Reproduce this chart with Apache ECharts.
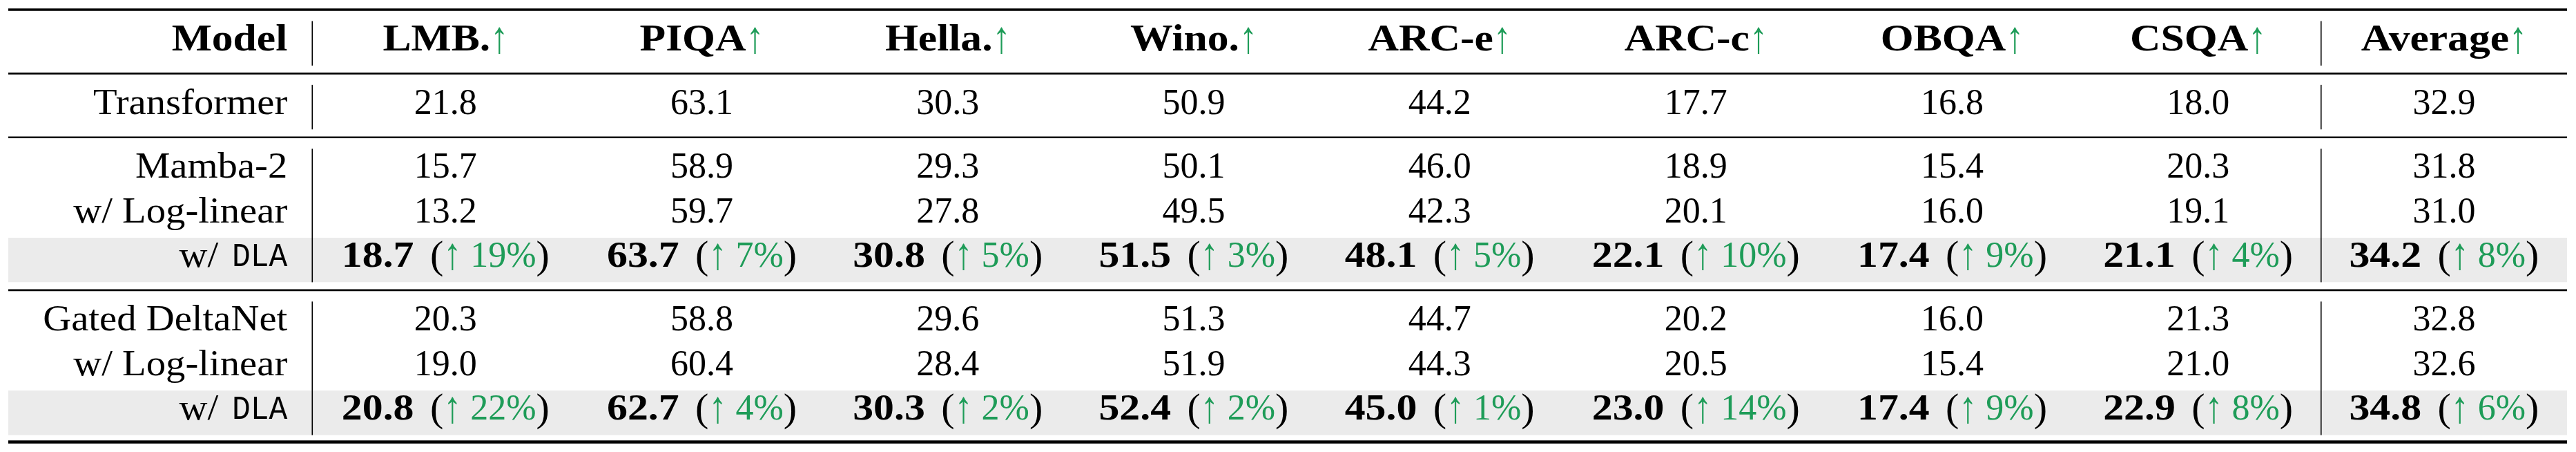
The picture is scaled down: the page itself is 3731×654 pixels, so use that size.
<!DOCTYPE html>
<html>
<head>
<meta charset="utf-8">
<script src="https://cdn.jsdelivr.net/npm/echarts@6/dist/echarts.min.js"></script>
<style>
html,body{margin:0;padding:0;background:#ffffff;}
#chart{width:3731px;height:654px;}
</style>
</head>
<body>
<div id="chart"></div>
<script>
// ---------------- data ----------------
const MODEL_HEADER = 'Model';
const COLUMNS = ['LMB.', 'PIQA', 'Hella.', 'Wino.', 'ARC-e', 'ARC-c', 'OBQA', 'CSQA', 'Average'];
const ROW_LABELS = ['Transformer', 'Mamba-2', 'w/ Log-linear', 'w/ DLA', 'Gated DeltaNet', 'w/ Log-linear', 'w/ DLA'];
const ROW_GROUPS = [1, 2, 2, 2, 3, 3, 3];
const CODE_TERM = 'DLA';

const TRANSFORMER      = [21.8, 63.1, 30.3, 50.9, 44.2, 17.7, 16.8, 18.0, 32.9];
const MAMBA2           = [15.7, 58.9, 29.3, 50.1, 46.0, 18.9, 15.4, 20.3, 31.8];
const MAMBA2_LOGLINEAR = [13.2, 59.7, 27.8, 49.5, 42.3, 20.1, 16.0, 19.1, 31.0];
const MAMBA2_DLA       = [18.7, 63.7, 30.8, 51.5, 48.1, 22.1, 17.4, 21.1, 34.2];
const MAMBA2_DLA_GAIN  = [19, 7, 5, 3, 5, 10, 9, 4, 8];
const GDN              = [20.3, 58.8, 29.6, 51.3, 44.7, 20.2, 16.0, 21.3, 32.8];
const GDN_LOGLINEAR    = [19.0, 60.4, 28.4, 51.9, 44.3, 20.5, 15.4, 21.0, 32.6];
const GDN_DLA          = [20.8, 62.7, 30.3, 52.4, 45.0, 23.0, 17.4, 22.9, 34.8];
const GDN_DLA_GAIN     = [22, 4, 2, 2, 1, 14, 9, 8, 6];

const ROW_VALUES = [TRANSFORMER, MAMBA2, MAMBA2_LOGLINEAR, MAMBA2_DLA, GDN, GDN_LOGLINEAR, GDN_DLA];
const ROW_GAINS  = [null, null, null, MAMBA2_DLA_GAIN, null, null, GDN_DLA_GAIN];

// ---------------- style / layout ----------------
const GREEN = '#1e9c58';
const SHADE = '#ebebeb';
const SERIF = 'Liberation Serif';
const MONO = 'Liberation Mono';
const F = {
  reg:     { size: 52, family: SERIF, weight: 'normal' },
  head:    { size: 55, family: SERIF, weight: 'bold' },
  boldNum: { size: 52, family: SERIF, weight: 'bold' },
  paren:   { size: 58, family: SERIF, weight: 'normal' },
  mono:    { size: 48, family: MONO,  weight: 'normal' }
};
const SX_LABEL = 1.09, SX_HEAD = 1.12, SX_BOLDNUM = 1.15, SX_MONO = 0.93, SY_ARROW = 1.25;
const EM = 52;

const MODEL_COL = 1.236, BASE_COL = 1, WIDE_EXTRA = 0.084, PAD = 0.101;
const GROUP_GAP = 0.434, RULE_ABOVE = 0.256, RULE_BELOW = 0.155, TEXT_SHIFT = -0.06;

// column geometry derived from content (two-digit gains widen a column)
const colW = COLUMNS.map((c, i) => {
  let digits = 1;
  ROW_GAINS.forEach(g => { if (g) digits = Math.max(digits, String(g[i]).length); });
  return BASE_COL + WIDE_EXTRA * (digits - 1);
});
const colStart = [];
let acc = MODEL_COL;
colW.forEach((w) => { colStart.push(acc); acc += w; });
const X_MAX = acc;
const colCenter = colStart.map((s, i) => s + colW[i] / 2);

// row geometry: row 0 = header (group 0), rows 1.. = body
const rowGroup = [0].concat(ROW_GROUPS);
const rowTop = rowGroup.map((g, i) => RULE_ABOVE + i + g * GROUP_GAP);
const Y_MAX = rowTop[rowTop.length - 1] + 1 + RULE_BELOW;

// rules
const RULES = [[0, 3.5]];
const groupRows = {};
rowGroup.forEach((g, i) => { (groupRows[g] = groupRows[g] || []).push(i); });
Object.keys(groupRows).map(Number).filter(g => g > 0).forEach(g => {
  RULES.push([rowTop[groupRows[g][0]] - RULE_ABOVE, 2.6]);
});
RULES.push([Y_MAX, 4.6]);

// vertical separators per group
const VLINES = [];
[MODEL_COL, colStart[COLUMNS.length - 1]].forEach(x => {
  Object.keys(groupRows).forEach(g => {
    const rows = groupRows[g];
    VLINES.push([x, rowTop[rows[0]], rowTop[rows[rows.length - 1]] + 1]);
  });
});

// shaded rows
const SHADES = [];
ROW_GAINS.forEach((g, i) => { if (g) SHADES.push([rowTop[i + 1], rowTop[i + 1] + 1]); });

// text cells
const CELLS = [];
const TEXT_DATA = [];
function addCell(x, y, align, segs) { TEXT_DATA.push([x, y, CELLS.length]); CELLS.push({ align, segs }); }
const cy = i => rowTop[i] + 0.5 + TEXT_SHIFT;

addCell(MODEL_COL - PAD, cy(0), 'right', [{ t: MODEL_HEADER, f: F.head, sx: SX_HEAD }]);
COLUMNS.forEach((c, j) => {
  addCell(colCenter[j], cy(0), 'center', [{ t: c, f: F.head, sx: SX_HEAD }, { t: '\u2191', f: F.reg, c: GREEN, sy: SY_ARROW }]);
});
ROW_LABELS.forEach((lab, i) => {
  const r = i + 1;
  let segs;
  if (lab.endsWith(' ' + CODE_TERM)) {
    const pre = lab.slice(0, lab.length - CODE_TERM.length - 1);
    segs = [{ t: pre, f: F.reg, sx: SX_LABEL }, { gap: 0.38 }, { t: CODE_TERM, f: F.mono, sx: SX_MONO }];
  } else {
    segs = [{ t: lab, f: F.reg, sx: SX_LABEL }];
  }
  addCell(MODEL_COL - PAD, cy(r), 'right', segs);
  ROW_VALUES[i].forEach((v, j) => {
    const gains = ROW_GAINS[i];
    let s;
    if (gains) {
      s = [{ t: v.toFixed(1), f: F.boldNum, sx: SX_BOLDNUM }, { gap: 0.45 }, { t: '(', f: F.paren },
           { t: '\u2191', f: F.reg, c: GREEN, sy: SY_ARROW }, { gap: 0.25 }, { t: gains[j] + '%', f: F.reg, c: GREEN },
           { t: ')', f: F.paren }];
    } else {
      s = [{ t: v.toFixed(1), f: F.reg }];
    }
    addCell(colCenter[j], cy(r), 'center', s);
  });
});

const mctx = document.createElement('canvas').getContext('2d');
function fontStr(f) { return (f.weight === 'bold' ? 'bold ' : '') + f.size + 'px "' + f.family + '"'; }
function segWidth(s) {
  if (s.gap) return s.gap * EM;
  mctx.font = fontStr(s.f);
  return mctx.measureText(s.t).width * (s.sx || 1);
}

// ---------------- chart ----------------
const chart = echarts.init(document.getElementById('chart'), null, { renderer: 'canvas' });
chart.setOption({
  backgroundColor: '#ffffff',
  animation: false,
  grid: { left: 12, right: 13, top: 14, bottom: 14.5 },
  xAxis: { type: 'value', min: 0, max: X_MAX, show: false },
  yAxis: { type: 'value', min: 0, max: Y_MAX, inverse: true, show: false },
  series: [
    {
      type: 'custom', silent: true, z: 1,
      data: SHADES,
      renderItem: (p, api) => {
        const a = api.coord([0, api.value(0)]), b = api.coord([X_MAX, api.value(1)]);
        return { type: 'rect', shape: { x: a[0], y: a[1], width: b[0] - a[0], height: b[1] - a[1] }, style: { fill: SHADE } };
      }
    },
    {
      type: 'custom', silent: true, z: 2,
      data: RULES,
      renderItem: (p, api) => {
        const a = api.coord([0, api.value(0)]), b = api.coord([X_MAX, api.value(0)]);
        return { type: 'line', shape: { x1: a[0], y1: a[1], x2: b[0], y2: b[1] }, style: { stroke: '#000', lineWidth: api.value(1) } };
      }
    },
    {
      type: 'custom', silent: true, z: 3,
      data: VLINES,
      renderItem: (p, api) => {
        const a = api.coord([api.value(0), api.value(1)]), b = api.coord([api.value(0), api.value(2)]);
        return { type: 'line', shape: { x1: a[0], y1: a[1], x2: b[0], y2: b[1] }, style: { stroke: '#000', lineWidth: 1.6 } };
      }
    },
    {
      type: 'custom', silent: true, z: 4,
      data: TEXT_DATA,
      renderItem: (p, api) => {
        const cell = CELLS[api.value(2)];
        const pt = api.coord([api.value(0), api.value(1)]);
        const widths = cell.segs.map(segWidth);
        const total = widths.reduce((a, b) => a + b, 0);
        let x = cell.align === 'right' ? pt[0] - total : pt[0] - total / 2;
        const children = [];
        cell.segs.forEach((s, k) => {
          if (!s.gap) {
            children.push({
              type: 'text', x: x, y: pt[1], scaleX: s.sx || 1, scaleY: s.sy || 1,
              style: {
                text: s.t, fontSize: s.f.size, fontFamily: s.f.family, fontWeight: s.f.weight,
                fill: s.c || '#000', align: 'left', verticalAlign: 'middle'
              }
            });
          }
          x += widths[k];
        });
        return { type: 'group', children };
      }
    }
  ]
});
</script>
</body>
</html>
